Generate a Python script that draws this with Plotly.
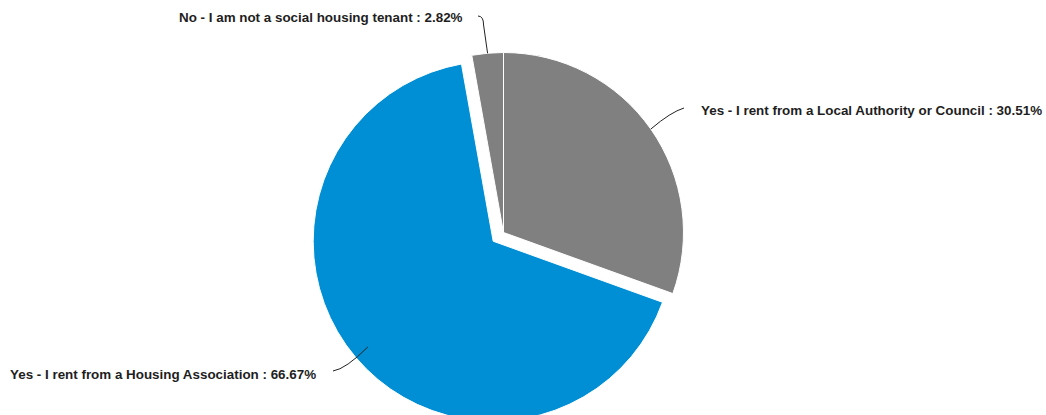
import math
import plotly.graph_objects as go

# Survey answers and their shares (%)
categories = [
    "Yes - I rent from a Local Authority or Council",
    "Yes - I rent from a Housing Association",
    "No - I am not a social housing tenant",
]
shares = [30.51, 66.67, 2.82]
slice_colors = ["#808080", "#008fd5", "#808080"]
pulls = [0.0, 0.075, 0.0]

# Page / plot-area geometry (pixels)
W, H = 1046, 426
MT, MB = 39, 0
PLOT_H = H - MT - MB
CX = 503.5
CY = MT + PLOT_H / 2
R = (PLOT_H / 2) / (1 + max(pulls))

dom_half = 0.3
dom_c = CX / W
fig = go.Figure(
    go.Pie(
        labels=categories,
        values=shares,
        sort=False,
        direction="clockwise",
        rotation=0,
        pull=pulls,
        marker=dict(colors=slice_colors, line=dict(color="white", width=1)),
        textinfo="none",
        hoverinfo="label+percent",
        domain=dict(x=[dom_c - dom_half, dom_c + dom_half], y=[0, 1]),
    )
)


def px_to_paper(x, y):
    return x / W, 1 - (y - MT) / PLOT_H


def slice_point(i, inset):
    """Point on slice i at its mid-angle, `inset` px inside the rim."""
    total = sum(shares)
    start = sum(shares[:i]) / total
    theta = 2 * math.pi * (start + shares[i] / total / 2)
    ox = CX + pulls[i] * R * math.sin(theta)
    oy = CY - pulls[i] * R * math.cos(theta)
    rr = R - inset
    return ox + rr * math.sin(theta), oy - rr * math.cos(theta)


def fmt(x, y):
    xp, yp = px_to_paper(x, y)
    return f"{xp:.5f},{yp:.5f}"


label_font = dict(family="Liberation Sans, Arial, sans-serif", size=13.4, color="#1e1e1e")

# Label placement: (text anchor pixel, xanchor, connector bend points)
# Local Authority (right)
ax, ay = slice_point(0, 0)
lx, ly = 699, 110
path0 = f"M {fmt(ax, ay)} Q {fmt(ax + 20, ly + 2)} {fmt(lx - 15, ly - 2)}"
# Housing Association (bottom-left)
bx, by = slice_point(1, 16)
blx, bly = 8, 374
path1 = f"M {fmt(bx, by)} Q {fmt(bx - 22, by + 22)} {fmt(333, bly - 3)}"
# Not a tenant (top)
nx, ny = slice_point(2, 0)
nlx, nly = 465, 17
path2 = f"M {fmt(nx, ny)} L {fmt(nx - 4, nly + 8)} Q {fmt(nx - 4, nly - 1)} {fmt(nlx + 13, nly - 1)}"

for p in (path0, path1, path2):
    fig.add_shape(type="path", path=p, xref="paper", yref="paper",
                  line=dict(color="#222222", width=1))

ann = [
    (lx, ly, "left", 0),
    (blx, bly, "left", 1),
    (nlx, nly, "right", 2),
]
for x, y, xa, i in ann:
    xp, yp = px_to_paper(x, y)
    fig.add_annotation(
        x=xp, y=yp, xref="paper", yref="paper",
        text=f"<b>{categories[i]} : {shares[i]:.2f}%</b>",
        showarrow=False, xanchor=xa, yanchor="middle",
        font=label_font,
    )

fig.update_layout(
    width=W, height=H,
    margin=dict(l=0, r=0, t=MT, b=MB, pad=0),
    showlegend=False,
    paper_bgcolor="white",
    plot_bgcolor="white",
)

fig.write_html(
    "out.html",
    post_script="document.documentElement.style.overflow='hidden';"
                "document.body.style.overflow='hidden';",
)
